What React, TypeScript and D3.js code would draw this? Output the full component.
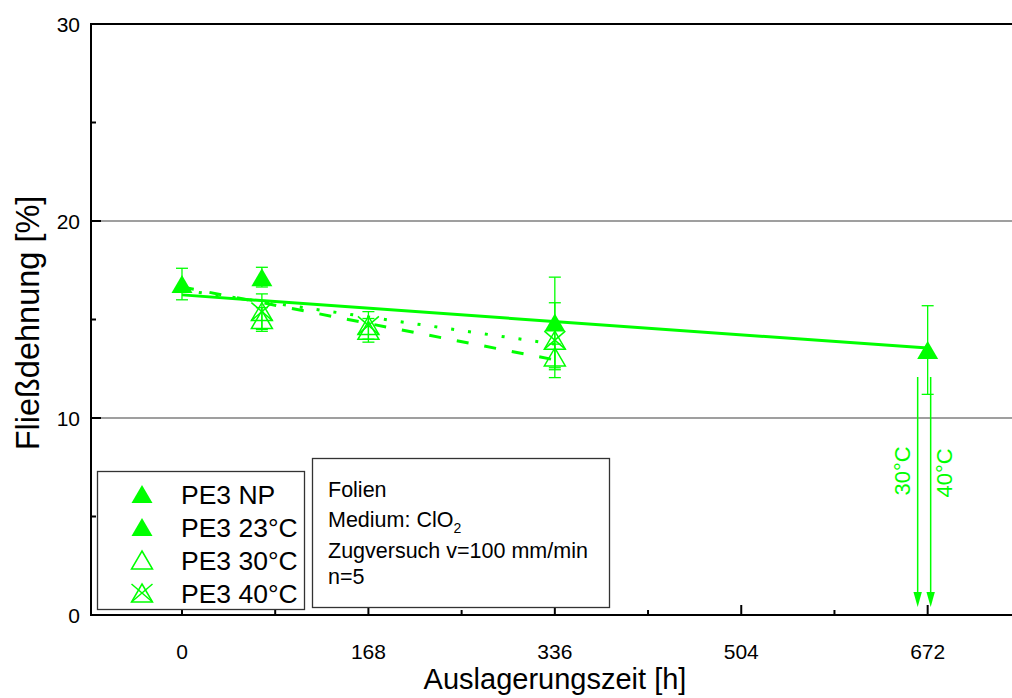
import React from "react";
import * as d3 from "d3";

const GREEN = "#00ff00";
const FONT = "'Liberation Sans', Arial, sans-serif";

const xTicksMajor = [0, 168, 336, 504, 672];
const xTicksMinor = [84, 252, 420, 588];
const yTicksMajor = [0, 10, 20, 30];
const yTicksMinor = [5, 15, 25];
const yGrid = [10, 20];

// time [h], value [%], error
const seriesNP = [{ t: 0, v: 16.8, e: 0.8 }];
const series23 = [
  { t: 72, v: 17.15, e: 0.5 },
  { t: 336, v: 14.85, e: 2.3 },
  { t: 672, v: 13.45, e: 2.25 },
];
const series30 = [
  { t: 72, v: 15.0, e: 0.6 },
  { t: 168, v: 14.45, e: 0.6 },
  { t: 336, v: 13.1, e: 0.65 },
];
const series40 = [
  { t: 72, v: 15.4, e: 0.9 },
  { t: 168, v: 14.7, e: 0.7 },
  { t: 336, v: 13.95, e: 1.9 },
];

// linear fit lines
const fit23 = [
  { t: 0, v: 16.25 },
  { t: 672, v: 13.55 },
];
const fit30 = [
  { t: 0, v: 16.65 },
  { t: 336, v: 12.95 },
];
const fit40 = [
  { t: 0, v: 16.5 },
  { t: 336, v: 13.75 },
];

const legendLabels = ["PE3 NP", "PE3 23°C", "PE3 30°C", "PE3 40°C"];
const legendKinds = ["filled", "filled", "open", "cross"];
const infoLines = ["Folien", "Medium: ClO", "Zugversuch v=100 mm/min", "n=5"];
const arrowTime = 672;
const arrowLabels = ["30°C", "40°C"];

const W = 1012;
const H = 698;
const x = d3.scaleLinear().domain([-82, 748]).range([91, 1012]);
const y = d3.scaleLinear().domain([0, 30]).range([615, 24]);

function Marker({ cx, cy, kind }: { cx: number; cy: number; kind: string }) {
  const w = 10.5, h = 9;
  const tri = `M${cx},${cy - h}L${cx + w},${cy + h}L${cx - w},${cy + h}Z`;
  if (kind === "filled") return <path d={tri} fill={GREEN} stroke="none" />;
  if (kind === "open")
    return <path d={tri} fill="none" stroke={GREEN} strokeWidth={1.5} />;
  return (
    <g fill="none" stroke={GREEN} strokeWidth={1.5}>
      <path d={tri} />
      <line x1={cx - w} y1={cy - h} x2={cx + w} y2={cy + h} />
      <line x1={cx + w} y1={cy - h} x2={cx - w} y2={cy + h} />
    </g>
  );
}

function ErrorBars({ data }: { data: { t: number; v: number; e: number }[] }) {
  return (
    <g stroke={GREEN} strokeWidth={1.3}>
      {data.map((d, i) => {
        const cx = x(d.t);
        const y1 = y(d.v + d.e);
        const y2 = y(d.v - d.e);
        return (
          <g key={i}>
            <line x1={cx} x2={cx} y1={y1} y2={y2} />
            <line x1={cx - 6} x2={cx + 6} y1={y1} y2={y1} />
            <line x1={cx - 6} x2={cx + 6} y1={y2} y2={y2} />
          </g>
        );
      })}
    </g>
  );
}

export default function App() {
  const line = d3
    .line<{ t: number; v: number }>()
    .x((d) => x(d.t))
    .y((d) => y(d.v));
  const ax = x(arrowTime);
  const arrowXs = [ax - 10, ax + 3];
  const arrowTop = 377;
  const arrowTip = 607;

  return (
    <svg
      width={W}
      height={H}
      style={{ position: "absolute", left: 0, top: 0, display: "block", background: "#fff" }}
      fontFamily={FONT}
    >
      <rect x={0} y={0} width={W} height={H} fill="#fff" />
      {/* grid */}
      {yGrid.map((v) => (
        <line key={v} x1={x.range()[0]} x2={x.range()[1]} y1={y(v)} y2={y(v)} stroke="#7f7f7f" strokeWidth={1.5} />
      ))}
      {/* frame */}
      <line x1={x.range()[0]} x2={x.range()[1]} y1={y(30)} y2={y(30)} stroke="#000" strokeWidth={2} />
      <line x1={x.range()[0]} x2={x.range()[1]} y1={y(0)} y2={y(0)} stroke="#000" strokeWidth={2} />
      <line x1={x.range()[0]} x2={x.range()[0]} y1={y(30) - 1} y2={y(0) + 1} stroke="#000" strokeWidth={2} />
      {/* y ticks */}
      {yTicksMajor.map((v) => (
        <g key={v}>
          <line x1={x.range()[0]} x2={x.range()[0] + 10} y1={y(v)} y2={y(v)} stroke="#000" strokeWidth={2} />
          <text x={80} y={y(v)} dy="0.36em" textAnchor="end" fontSize={21}>
            {v}
          </text>
        </g>
      ))}
      {yTicksMinor.map((v) => (
        <line key={v} x1={x.range()[0]} x2={x.range()[0] + 5} y1={y(v)} y2={y(v)} stroke="#000" strokeWidth={2} />
      ))}
      {/* x ticks */}
      {xTicksMajor.map((t) => (
        <g key={t}>
          <line x1={x(t)} x2={x(t)} y1={y(0)} y2={y(0) - 10} stroke="#000" strokeWidth={2} />
          <text x={x(t)} y={651} dy="0.36em" textAnchor="middle" fontSize={21}>
            {t}
          </text>
        </g>
      ))}
      {xTicksMinor.map((t) => (
        <line key={t} x1={x(t)} x2={x(t)} y1={y(0)} y2={y(0) - 5} stroke="#000" strokeWidth={2} />
      ))}
      {/* titles */}
      <text x={555} y={689} textAnchor="middle" fontSize={29}>
        Auslagerungszeit [h]
      </text>
      <text transform="translate(39,323) rotate(-90)" textAnchor="middle" fontSize={32.5}>
        Fließdehnung [%]
      </text>

      {/* fit lines */}
      <path d={line(fit23) || ""} fill="none" stroke={GREEN} strokeWidth={3} />
      <path d={line(fit30) || ""} fill="none" stroke={GREEN} strokeWidth={3} strokeDasharray="12,16" />
      <path d={line(fit40) || ""} fill="none" stroke={GREEN} strokeWidth={3} strokeDasharray="3,14" />

      {/* error bars */}
      <ErrorBars data={seriesNP} />
      <ErrorBars data={series23} />
      <ErrorBars data={series30} />
      <ErrorBars data={series40} />

      {/* markers */}
      {series30.map((d, i) => (
        <Marker key={"a" + i} cx={x(d.t)} cy={y(d.v)} kind="open" />
      ))}
      {series40.map((d, i) => (
        <Marker key={"b" + i} cx={x(d.t)} cy={y(d.v)} kind="cross" />
      ))}
      {seriesNP.map((d, i) => (
        <Marker key={"c" + i} cx={x(d.t)} cy={y(d.v)} kind="filled" />
      ))}
      {series23.map((d, i) => (
        <Marker key={"d" + i} cx={x(d.t)} cy={y(d.v)} kind="filled" />
      ))}

      {/* arrows */}
      {arrowXs.map((ax2, i) => (
        <g key={i}>
          <line x1={ax2} x2={ax2} y1={arrowTop} y2={arrowTip - 12} stroke={GREEN} strokeWidth={1.5} />
          <path d={`M${ax2 - 4.2},${arrowTip - 15}L${ax2 + 4.2},${arrowTip - 15}L${ax2},${arrowTip}Z`} fill={GREEN} />
        </g>
      ))}
      <text transform={`translate(${arrowXs[0] - 8},471) rotate(-90)`} textAnchor="middle" fontSize={22} fill={GREEN}>
        {arrowLabels[0]}
      </text>
      <text transform={`translate(${arrowXs[1] + 21},473) rotate(-90)`} textAnchor="middle" fontSize={22} fill={GREEN}>
        {arrowLabels[1]}
      </text>

      {/* legend */}
      <rect x={97.5} y={471.5} width={207} height={138} fill="#fff" stroke="#333" strokeWidth={1.3} />
      {legendLabels.map((lab, i) => {
        const cy = 494 + i * 33;
        return (
          <g key={lab}>
            <Marker cx={142} cy={cy} kind={legendKinds[i]} />
            <text x={181} y={cy} dy="0.36em" fontSize={26.5}>
              {lab}
            </text>
          </g>
        );
      })}

      {/* info box */}
      <rect x={312.5} y={458.5} width={297} height={149} fill="#fff" stroke="#333" strokeWidth={1.3} />
      {infoLines.map((t, i) => {
        const ys = [497, 527, 558, 584];
        return (
          <text key={i} x={328} y={ys[i]} fontSize={21.5}>
            {t}
            {i === 1 ? (
              <tspan fontSize={14} dy={6}>
                2
              </tspan>
            ) : null}
          </text>
        );
      })}
    </svg>
  );
}
